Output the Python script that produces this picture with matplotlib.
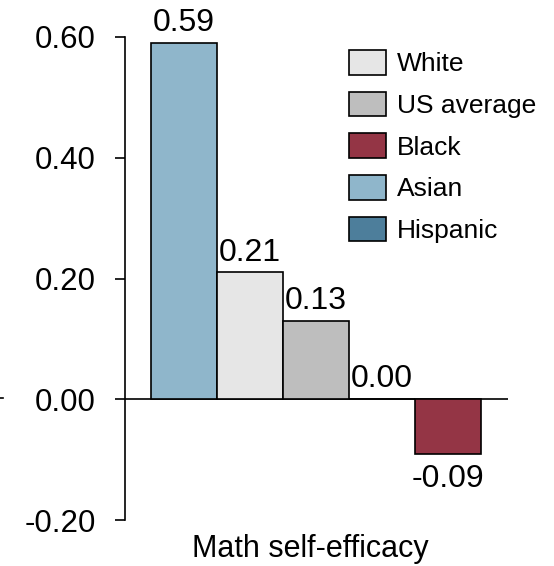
import matplotlib.pyplot as plt
from matplotlib.patches import Patch
from matplotlib.lines import Line2D

plt.rcParams['font.family'] = ['Liberation Sans', 'DejaVu Sans']

# bar order left to right
groups = ['Asian', 'White', 'US average', 'Hispanic', 'Black']
values = [0.59, 0.21, 0.13, 0.00, -0.09]
labels = ['0.59', '0.21', '0.13', '0.00', '-0.09']
colors = {'White': '#e6e6e6', 'US average': '#bebebe', 'Black': '#943545',
          'Asian': '#8fb6cb', 'Hispanic': '#4d7e9b'}
legend_order = ['White', 'US average', 'Black', 'Asian', 'Hispanic']
yticks = [-0.20, 0.00, 0.20, 0.40, 0.60]

W, H = 554, 566
fig = plt.figure(figsize=(W / 100, H / 100), dpi=100)
ax = fig.add_axes([125 / W, 1 - 520 / H, 383 / W, 483 / H])

xs = list(range(1, len(groups) + 1))
ax.bar(xs, values, width=1.0, color=[colors[g] for g in groups],
       edgecolor='black', linewidth=1.2, zorder=3)
ax.axhline(0, color='black', linewidth=1.2, zorder=2)

for x, v, t in zip(xs, values, labels):
    if v < 0:
        ax.text(x, v - 0.018, t, ha='center', va='top', fontsize=23)
    else:
        ax.text(x, v + 0.008, t, ha='center', va='bottom', fontsize=23)

ax.set_xlim(0.106, 5.909)
ax.set_ylim(-0.2, 0.6)
ax.set_yticks(yticks)
ax.set_yticklabels([f'{t:.2f}' for t in yticks])
ax.tick_params(axis='y', length=7, width=1.2, pad=14, labelsize=22.5)
ax.set_xticks([])
for s in ['top', 'right', 'bottom']:
    ax.spines[s].set_visible(False)
ax.spines['left'].set_linewidth(1.2)
ax.spines['left'].set_bounds(-0.2, 0.6)

fig.text(310 / W, 1 - 549 / H, 'Math self-efficacy', ha='center', va='center', fontsize=22)

handles = [Patch(facecolor=colors[g], edgecolor='black', linewidth=1.2) for g in legend_order]
fig.legend(handles, legend_order, loc='upper left', bbox_to_anchor=(349 / W, 1 - 50 / H),
           frameon=False, fontsize=19, handlelength=1.4, handleheight=1.06,
           handletextpad=0.42, labelspacing=0.58, borderpad=0, borderaxespad=0)

fig.add_artist(Line2D([0, 3 / W], [1 - 398 / H, 1 - 398 / H], color='black', linewidth=1.2))

fig.savefig('out.png', dpi=100)
